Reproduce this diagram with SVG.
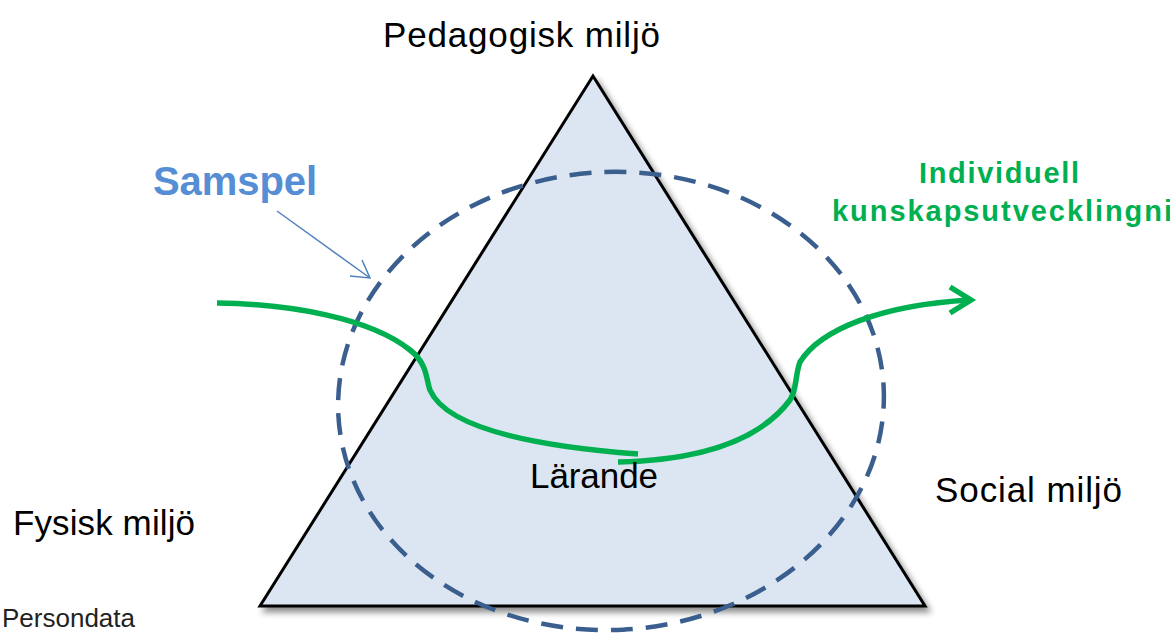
<svg xmlns="http://www.w3.org/2000/svg" width="1170" height="634" viewBox="0 0 1170 634">
<style>
.lbl{font-family:"Liberation Sans",Arial,sans-serif;font-size:35px;fill:#000}
.grn{fill:none;stroke:#00B050;stroke-width:5.5;stroke-linecap:butt}
</style>
<defs>
<filter id="sh" x="-10%" y="-10%" width="130%" height="130%">
<feGaussianBlur in="SourceAlpha" stdDeviation="3"/>
<feOffset dx="4" dy="5" result="b"/>
<feComponentTransfer><feFuncA type="linear" slope="0.45"/></feComponentTransfer>
<feMerge><feMergeNode/><feMergeNode in="SourceGraphic"/></feMerge>
</filter>
</defs>
<rect width="1170" height="634" fill="#fff"/>
<g id="triangle">
<polygon points="593,76 925,606 260,606" fill="#DCE6F2" stroke="#000" stroke-width="3" stroke-linejoin="miter" filter="url(#sh)"/>
</g>
<g id="circle">
<ellipse cx="611" cy="401" rx="273" ry="229" transform="rotate(-3 611 401)" fill="none" stroke="#3A5F8E" stroke-width="4.5" stroke-dasharray="22 13"/>
</g>
<g id="connectors">
<path class="grn" d="M217,303 C290,304 370,318 410,350 C428,364 426,380 430,390 C445,425 520,445 638,454"/>
<path class="grn" d="M618,462 C700,460 760,440 790,400 C797,390 795,375 800,362 C820,330 880,305 970,300"/>
<path class="grn" d="M950,287 L971,300 L950,313" stroke-linejoin="miter"/>
<g id="samspel-arrow" fill="none" stroke="#4F81BD" stroke-width="1.5">
<path d="M277,211 L370,278"/>
<path d="M350,276 L370,278 L362,260"/>
</g>
</g>
<g id="n-ped"><text class="lbl" x="383" y="47" textLength="277">Pedagogisk miljö</text></g>
<g id="n-samspel"><text x="153" y="195" font-family="Liberation Sans,Arial,sans-serif" font-weight="bold" font-size="40" fill="#558ED5" textLength="164">Samspel</text></g>
<g id="n-indiv">
<text x="919" y="183" font-family="Liberation Sans,Arial,sans-serif" font-weight="bold" font-size="29" fill="#00B050" textLength="160">Individuell</text>
<text x="832" y="221" font-family="Liberation Sans,Arial,sans-serif" font-weight="bold" font-size="29" fill="#00B050" textLength="340">kunskapsutvecklingni</text>
</g>
<g id="n-lar"><text class="lbl" x="530" y="488" font-size="32" textLength="128">Lärande</text></g>
<g id="n-social"><text class="lbl" x="935" y="502" textLength="187">Social miljö</text></g>
<g id="n-fysisk"><text class="lbl" x="13" y="535" textLength="182">Fysisk miljö</text></g>
<g id="n-persondata"><text x="2" y="627" font-family="Liberation Sans,Arial,sans-serif" font-size="26" fill="#222">Persondata</text></g>
</svg>
